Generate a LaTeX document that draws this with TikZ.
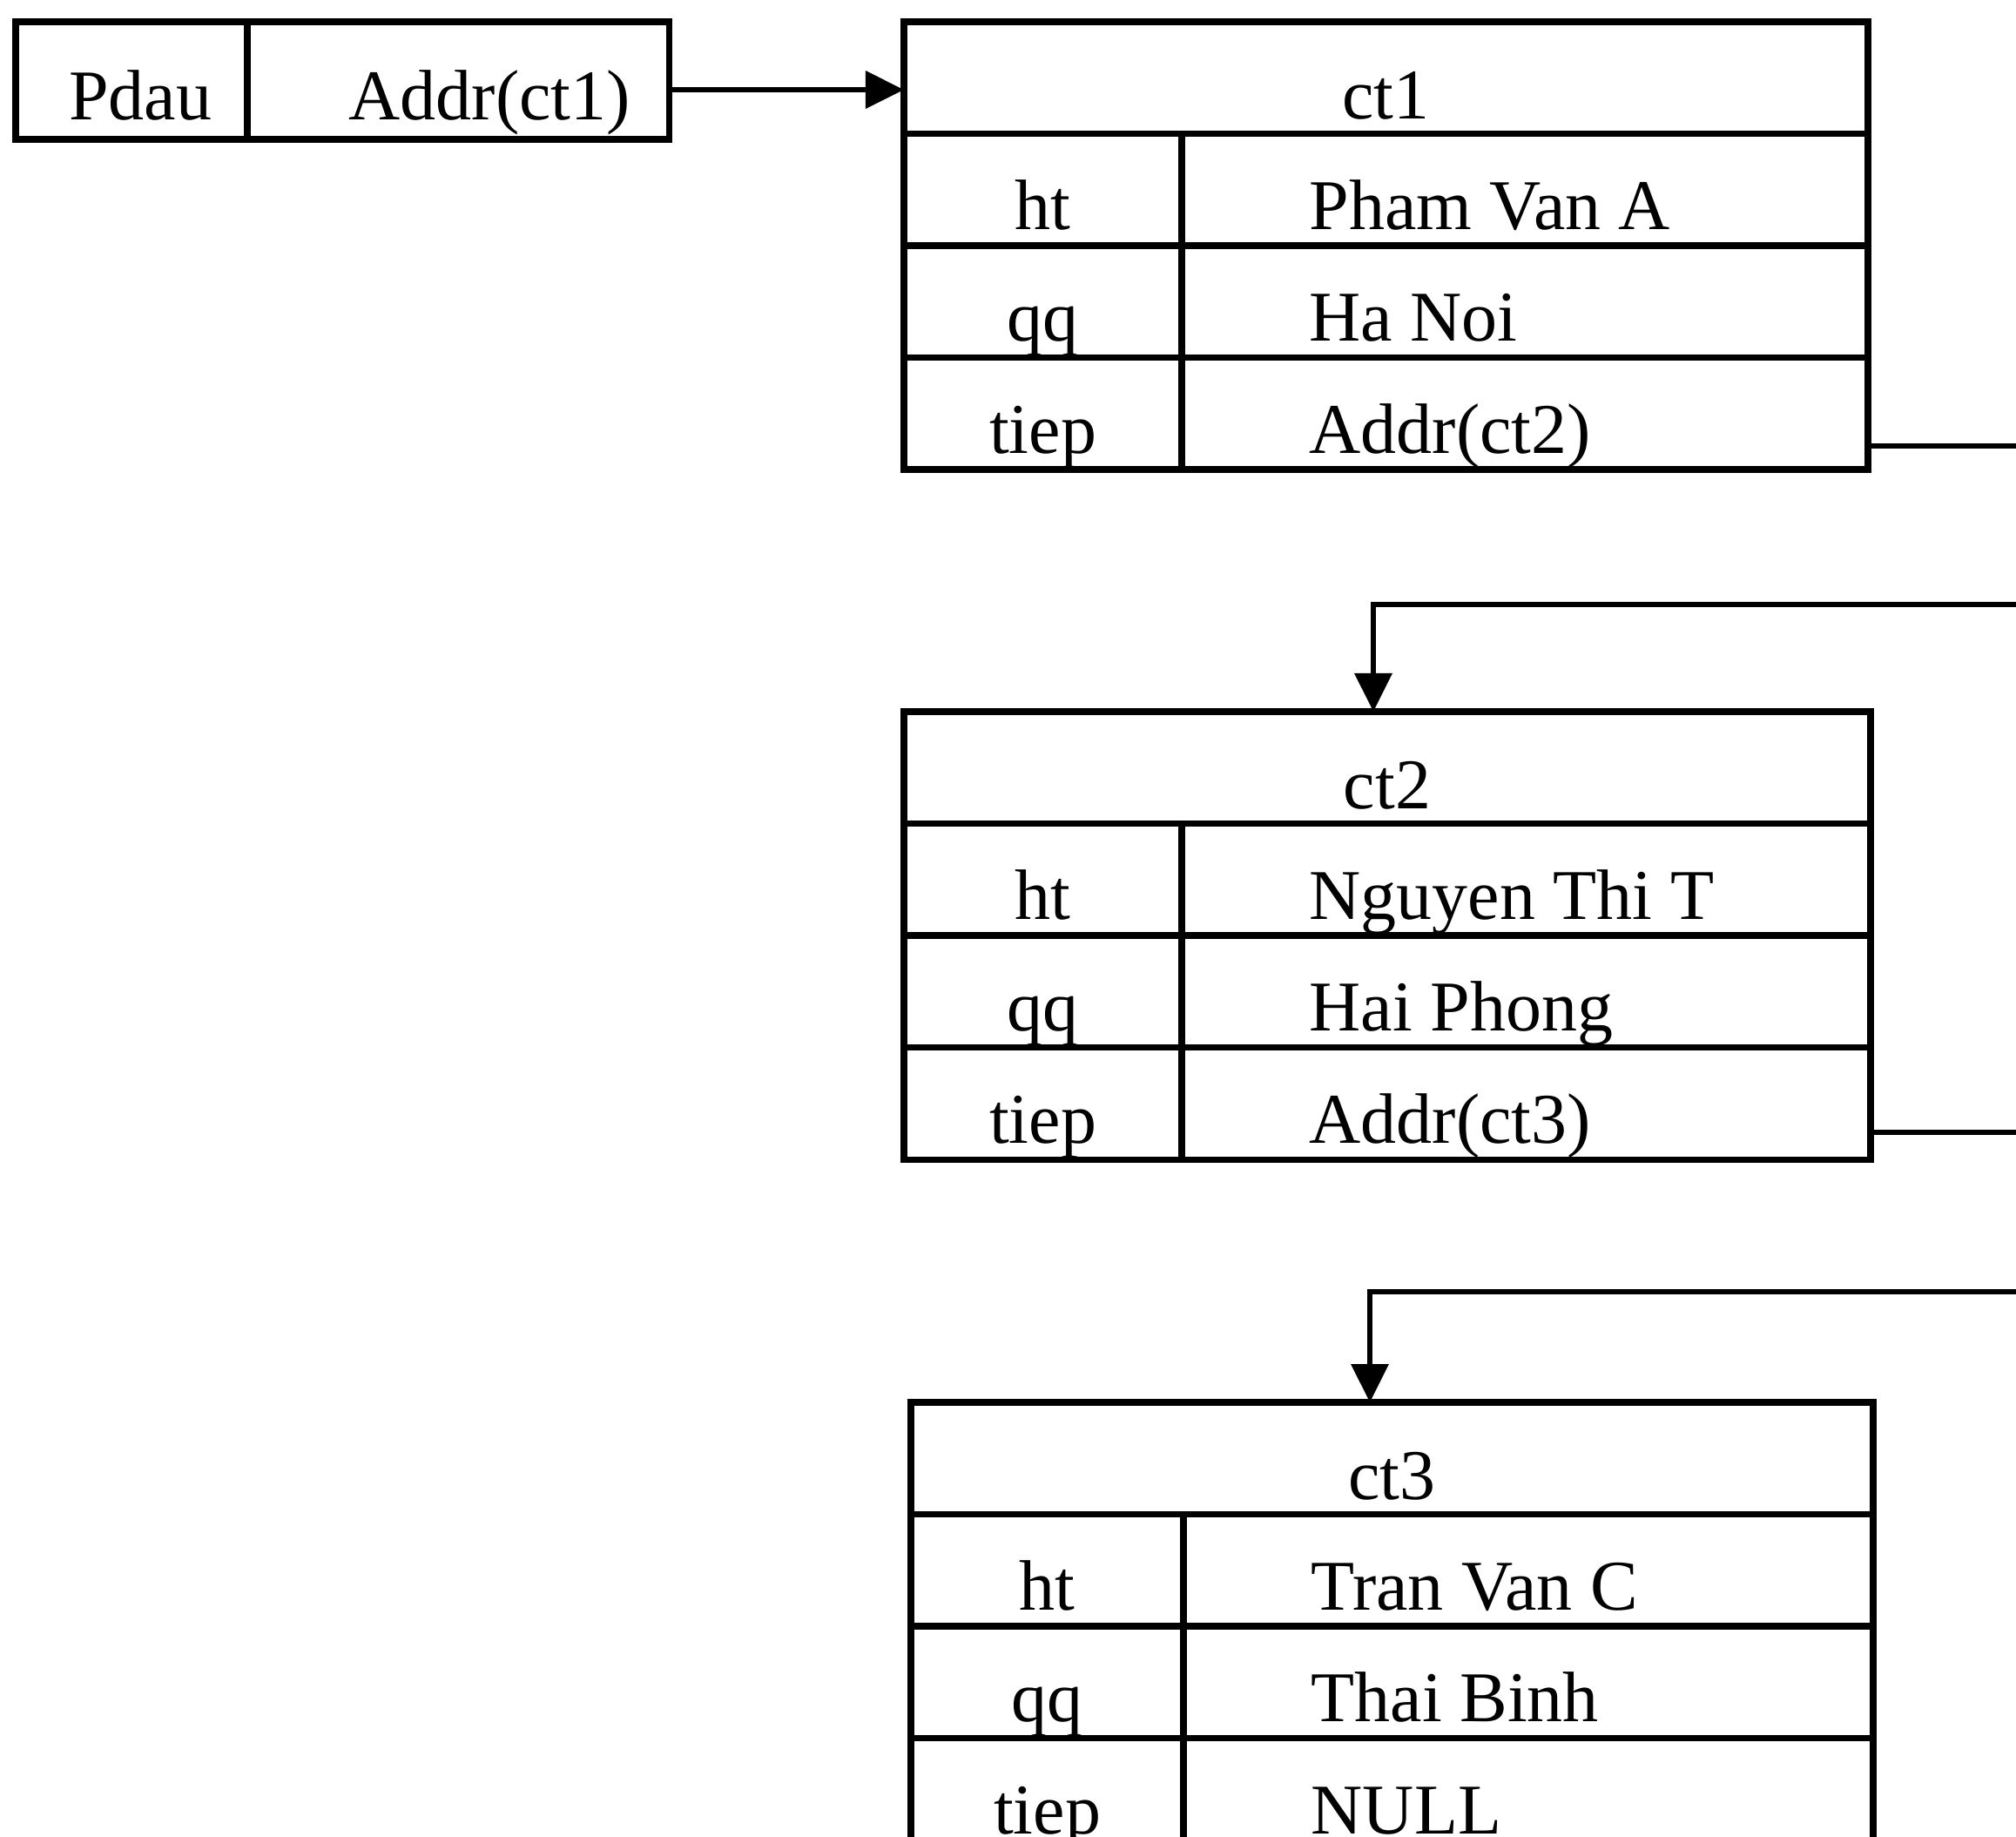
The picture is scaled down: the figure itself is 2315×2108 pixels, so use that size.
\documentclass[tikz,border=0pt]{standalone}
\usepackage{fontspec}
\setmainfont{Liberation Serif}
\usetikzlibrary{arrows.meta}
\tikzset{
  cell/.style={draw, line width=0.072cm, inner sep=0pt, outer sep=0pt, anchor=north west},
  txt/.style={anchor=base, inner sep=0pt, font=\fontsize{23.3}{28}\selectfont},
  ptr/.style={line width=0.065cm, -{Triangle[length=0.44cm,width=0.42cm]}},
}
% #1 name, #2 left x, #3 top y, #4 divider x, #5 right x, #6 title, #7 ht, #8 qq, #9 tiep
\newcommand\recbox[9]{%
  \node[cell, minimum width={(#5-#2)*0.01cm}, minimum height=1.285cm] (#1-h) at (#2,#3) {};
  \node[cell, minimum width={(#4-#2)*0.01cm}, minimum height=1.285cm] (#1-hk) at (#2,#3+128.5) {};
  \node[cell, minimum width={(#5-#4)*0.01cm}, minimum height=1.285cm] (#1-hv) at (#4,#3+128.5) {};
  \node[cell, minimum width={(#4-#2)*0.01cm}, minimum height=1.285cm] (#1-qk) at (#2,#3+257) {};
  \node[cell, minimum width={(#5-#4)*0.01cm}, minimum height=1.285cm] (#1-qv) at (#4,#3+257) {};
  \node[cell, minimum width={(#4-#2)*0.01cm}, minimum height=1.285cm] (#1-tk) at (#2,#3+385.5) {};
  \node[cell, minimum width={(#5-#4)*0.01cm}, minimum height=1.285cm] (#1-tv) at (#4,#3+385.5) {};
  \node[txt] (#1-ht) at ([yshift=0.17cm]#1-h.south) {#6};
  \node[txt] (#1-hkt) at ([yshift=0.19cm]#1-hk.south) {ht};
  \node[txt] (#1-qkt) at ([yshift=0.19cm]#1-qk.south) {qq};
  \node[txt] (#1-tkt) at ([yshift=0.19cm]#1-tk.south) {tiep};
  \node[txt, anchor=base west] (#1-hvt) at ([xshift=1.46cm, yshift=0.19cm]#1-hv.south west) {#7};
  \node[txt, anchor=base west] (#1-qvt) at ([xshift=1.46cm, yshift=0.19cm]#1-qv.south west) {#8};
  \node[txt, anchor=base west] (#1-tvt) at ([xshift=1.46cm, yshift=0.19cm]#1-tv.south west) {#9};
}
\begin{document}
\begin{tikzpicture}[x=0.01cm, y=-0.01cm]
  \useasboundingbox (0,0) rectangle (2315,2108);
  % head pointer
  \node[cell, minimum width=2.66cm, minimum height=1.35cm] (pk) at (18,25) {};
  \node[cell, minimum width=4.84cm, minimum height=1.35cm] (pv) at (284,25) {};
  \node[txt] (pkt) at ([xshift=0.10cm, yshift=0.23cm]pk.south) {Pdau};
  \node[txt, anchor=base west] (pvt) at ([xshift=1.16cm, yshift=0.23cm]pv.south west) {Addr(ct1)};
  % records
  \recbox{ct1}{1038}{25}{1357}{2145}{ct1}{Pham Van A}{Ha Noi}{Addr(ct2)}
  \recbox{ct2}{1038}{817}{1357}{2148}{ct2}{Nguyen Thi T}{Hai Phong}{Addr(ct3)}
  \recbox{ct3}{1046}{1610}{1359}{2151}{ct3}{Tran Van C}{Thai Binh}{NULL}
  % connectors
  \coordinate (a1) at (0,103);
  \coordinate (j2) at (1577,694);
  \coordinate (j3) at (1573,1483);
  \coordinate (r2) at (2420,694);
  \coordinate (r3) at (2420,1483);
  \draw[ptr] (pv.east |- a1) -- (ct1-h.west |- a1);
  \draw[ptr] ([yshift=0.27cm]ct1-tv.south east) -| (r2) -- (j2) -- (j2 |- ct2-h.north);
  \draw[ptr] ([yshift=0.31cm]ct2-tv.south east) -| (r3) -- (j3) -- (j3 |- ct3-h.north);
\end{tikzpicture}
\end{document}
